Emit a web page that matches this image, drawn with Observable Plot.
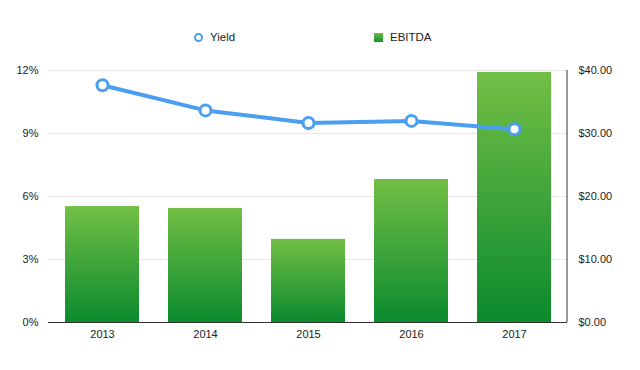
<!DOCTYPE html>
<html>
<head>
<meta charset="utf-8">
<script src="https://cdn.jsdelivr.net/npm/d3@7"></script>
<script src="https://cdn.jsdelivr.net/npm/@observablehq/plot@0.6"></script>
<style>
  body { margin: 0; background: #fff; font-family: "Liberation Sans", Arial, sans-serif; }
  #legend { position: relative; height: 55px; width: 640px; font-size: 11.5px; color: #222; }
  .li { position: absolute; top: 31px; display: flex; align-items: center; gap: 7px; }
  .ring { width: 5px; height: 5px; border: 2px solid #4a9ff0; border-radius: 50%; background: #fff; }
  .sq { width: 9px; height: 9px; background: linear-gradient(#6fbd45, #14922f); }
</style>
</head>
<body>
<div id="legend">
  <div class="li" style="left:194px"><div class="ring"></div><span>Yield</span></div>
  <div class="li" style="left:374px"><div class="sq"></div><span>EBITDA</span></div>
</div>
<div id="chart"></div>
<script>
const years = ["2013", "2014", "2015", "2016", "2017"];
const ebitda = [18.4, 18.1, 13.2, 22.7, 39.7];   // $
const yieldPct = [11.3, 10.1, 9.5, 9.6, 9.2];    // %
const leftTicks = [0, 3, 6, 9, 12];               // %
const rightTicks = [0, 10, 20, 30, 40];           // $

const k = 40 / 12; // yield % -> $ scale
const rows = years.map((y, i) => ({ year: y, ebitda: ebitda[i], yld: yieldPct[i] * k }));

const defs = () => {
  const g = d3.create("svg:defs");
  const lg = g.append("linearGradient").attr("id", "barGrad").attr("x1", 0).attr("y1", 0).attr("x2", 0).attr("y2", 1);
  lg.append("stop").attr("offset", "0%").attr("stop-color", "#72bf45");
  lg.append("stop").attr("offset", "100%").attr("stop-color", "#0b8a2e");
  return g.node();
};

// right-hand frame line, positioned from the y scale
const rightLine = (index, scales, values, dims) => {
  const x = dims.width - dims.marginRight;
  return d3.create("svg:line")
    .attr("x1", x).attr("x2", x)
    .attr("y1", scales.y(0)).attr("y2", scales.y(40))
    .attr("stroke", "#333").attr("stroke-width", 1)
    .node();
};

const chart = Plot.plot({
  width: 640,
  height: 315,
  marginTop: 15,
  marginBottom: 48,
  marginLeft: 48,
  marginRight: 73,
  style: { fontFamily: "Liberation Sans, Arial, sans-serif", fontSize: "11px", color: "#222", background: "#fff" },
  x: { domain: years, paddingInner: 0.285, paddingOuter: 0.1425, label: null },
  y: { domain: [0, 40], label: null },
  marks: [
    defs,
    Plot.ruleY(leftTicks.filter(d => d > 0).map(d => d * k), { stroke: "#e8e8e8", strokeWidth: 1 }),
    Plot.barY(rows, { x: "year", y: "ebitda", fill: "url(#barGrad)" }),
    Plot.ruleY([0], { stroke: "#333", strokeWidth: 1 }),
    rightLine,
    Plot.line(rows, { x: "year", y: "yld", stroke: "#4a9ff0", strokeWidth: 4 }),
    Plot.dot(rows, { x: "year", y: "yld", r: 5.5, fill: "#fff", stroke: "#4a9ff0", strokeWidth: 3 }),
    Plot.axisY(leftTicks.map(d => d * k), { anchor: "left", tickSize: 0, tickPadding: 10, tickFormat: d => Math.round(d / k) + "%", label: null }),
    Plot.axisY(rightTicks, { anchor: "right", tickSize: 0, tickPadding: 11, tickFormat: d => "$" + d.toFixed(2), label: null }),
    Plot.axisX({ tickSize: 0, tickPadding: 8, label: null })
  ]
});
document.getElementById("chart").appendChild(chart);
</script>
</body>
</html>
